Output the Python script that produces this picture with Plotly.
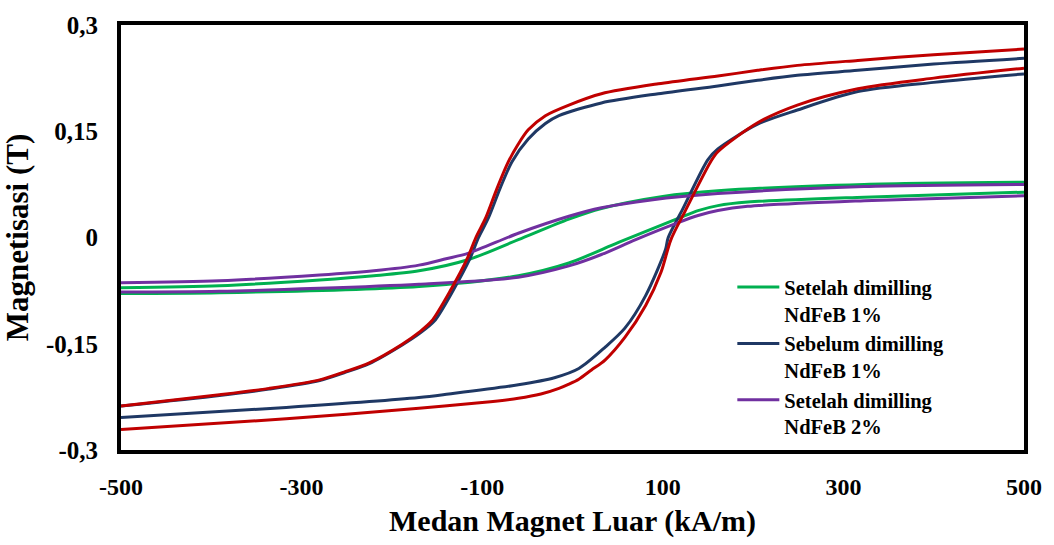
import plotly.graph_objects as go

# ---- data ----
# Red loop (no legend entry): descending branch (H from +500 to -500)
red_up_x = [500, 400, 316, 249, 205, 161, 95, 32, -4, -30, -49, -60, -71, -84, -96, -107, -117, -134, -156, -170, -189, -225, -253, -280, -336, -391, -500]
red_up_y = [0.266, 0.258, 0.250, 0.243, 0.236, 0.228, 0.217, 0.203, 0.187, 0.172, 0.152, 0.132, 0.107, 0.068, 0.028, 0.0, -0.031, -0.072, -0.118, -0.134, -0.151, -0.177, -0.190, -0.201, -0.213, -0.222, -0.238]
# Red loop: ascending branch (H from -500 to +500)
red_lo_x = [-500, -317, -170, -100, -60, -35, -15, -4, 7, 21, 36, 58, 81, 98, 109, 125, 153, 161, 205, 249, 316, 400, 500]
red_lo_y = [-0.271, -0.256, -0.241, -0.233, -0.227, -0.221, -0.213, -0.207, -0.200, -0.187, -0.173, -0.141, -0.096, -0.049, -0.003, 0.038, 0.107, 0.121, 0.162, 0.187, 0.210, 0.225, 0.239]

# Sebelum dimilling NdFeB 1% (navy)
navy_up_x = [500, 400, 316, 249, 205, 161, 95, 32, -15, -30, -49, -67, -80, -93, -104, -114, -131, -153, -170, -189, -225, -253, -280, -336, -391, -500]
navy_up_y = [0.253, 0.245, 0.236, 0.229, 0.222, 0.214, 0.203, 0.190, 0.172, 0.161, 0.139, 0.107, 0.070, 0.028, 0.0, -0.031, -0.072, -0.118, -0.136, -0.152, -0.178, -0.191, -0.202, -0.214, -0.223, -0.238]
navy_lo_x = [-500, -317, -170, -137, -60, -20, 7, 36, 58, 81, 103, 106, 122, 150, 161, 205, 249, 316, 400, 500]
navy_lo_y = [-0.254, -0.240, -0.226, -0.221, -0.208, -0.198, -0.185, -0.155, -0.128, -0.082, -0.017, 0.0, 0.040, 0.110, 0.125, 0.160, 0.180, 0.206, 0.219, 0.231]

# Setelah dimilling NdFeB 1% (green)
green_up_x = [500, 323, 161, 100, 32, -4, -60, -115, -170, -220, -280, -391, -500]
green_up_y = [0.078, 0.075, 0.066, 0.058, 0.041, 0.026, -0.003, -0.031, -0.047, -0.054, -0.060, -0.068, -0.071]
green_lo_x = [-500, -391, -170, -60, -4, 51, 117, 139, 161, 194, 323, 500]
green_lo_y = [-0.079, -0.078, -0.069, -0.054, -0.036, -0.007, 0.027, 0.038, 0.045, 0.050, 0.057, 0.064]

# Setelah dimilling NdFeB 2% (purple)
purple_up_x = [500, 323, 161, 87, 32, -4, -60, -115, -140, -170, -220, -280, -391, -500]
purple_up_y = [0.075, 0.072, 0.062, 0.053, 0.042, 0.030, 0.006, -0.022, -0.030, -0.039, -0.047, -0.053, -0.061, -0.064]
purple_lo_x = [-500, -391, -170, -60, -4, 32, 70, 117, 139, 161, 194, 323, 500]
purple_lo_y = [-0.077, -0.076, -0.066, -0.056, -0.040, -0.024, -0.003, 0.021, 0.031, 0.038, 0.044, 0.052, 0.059]

x_tickvals = [-500, -300, -100, 100, 300, 500]
x_ticktext = ["-500", "-300", "-100", "100", "300", "500"]
y_tickvals = [-0.3, -0.15, 0, 0.15, 0.3]
y_ticktext = ["-0,3", "-0,15", "0", "0,15", "0,3"]

series_names = ["Setelah dimilling<br>NdFeB 1%", "Sebelum dimilling<br>NdFeB 1%", "Setelah dimilling<br>NdFeB 2%"]

FONT = "Liberation Serif"
fig = go.Figure()


def loop(ux, uy, lx, ly):
    return ux + [None] + lx, uy + [None] + ly


gx, gy = loop(green_up_x, green_up_y, green_lo_x, green_lo_y)
nx, ny = loop(navy_up_x, navy_up_y, navy_lo_x, navy_lo_y)
px_, py_ = loop(purple_up_x, purple_up_y, purple_lo_x, purple_lo_y)
rx, ry = loop(red_up_x, red_up_y, red_lo_x, red_lo_y)

SM = 0.8
fig.add_trace(go.Scatter(x=gx, y=gy, mode="lines", name=series_names[0],
                         line=dict(color="#00B050", width=3, shape="spline", smoothing=SM)))
fig.add_trace(go.Scatter(x=nx, y=ny, mode="lines", name=series_names[1],
                         line=dict(color="#1F3864", width=3, shape="spline", smoothing=SM)))
fig.add_trace(go.Scatter(x=px_, y=py_, mode="lines", name=series_names[2],
                         line=dict(color="#7030A0", width=3, shape="spline", smoothing=SM)))
fig.add_trace(go.Scatter(x=rx, y=ry, mode="lines", showlegend=False,
                         line=dict(color="#C00000", width=3, shape="spline", smoothing=SM)))

fig.update_layout(
    width=1054, height=545,
    margin=dict(l=121, r=27, t=21, b=89),
    paper_bgcolor="white", plot_bgcolor="white",
    font=dict(family=FONT, color="black"),
    legend=dict(
        x=0.677, y=0.43, xanchor="left", yanchor="top",
        bgcolor="rgba(0,0,0,0)", valign="top", itemwidth=42,
        font=dict(family=FONT, size=20.5, color="black", weight="bold"),
        tracegroupgap=0,
    ),
    xaxis=dict(
        range=[-500, 500], tickvals=x_tickvals, ticktext=x_ticktext,
        showgrid=False, zeroline=False, showline=True, mirror=True,
        linecolor="black", linewidth=4, ticks="",
        tickfont=dict(family=FONT, size=24, weight="bold"),
        ticklabelstandoff=12,
        title=dict(text="Medan Magnet Luar (kA/m)", standoff=12,
                   font=dict(family=FONT, size=30, weight="bold")),
    ),
    yaxis=dict(
        range=[-0.3, 0.3], tickvals=y_tickvals, ticktext=y_ticktext,
        showgrid=False, zeroline=False, showline=True, mirror=True,
        linecolor="black", linewidth=4, ticks="",
        tickfont=dict(family=FONT, size=25, weight="bold"),
        ticklabelstandoff=14,
        title=dict(text="Magnetisasi (T)", standoff=12,
                   font=dict(family=FONT, size=31, weight="bold")),
    ),
)

fig.write_html("out.html")
